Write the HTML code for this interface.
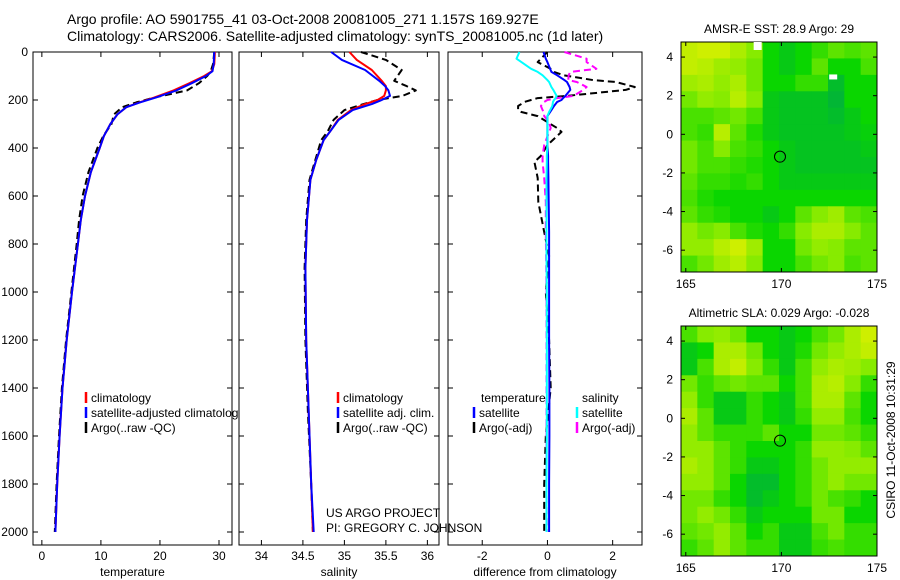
<!DOCTYPE html>
<html><head><meta charset="utf-8">
<style>
html,body{margin:0;padding:0;background:#fff;}
svg{display:block;font-family:"Liberation Sans",sans-serif;}
</style></head>
<body>
<svg id="fig" width="900" height="580" viewBox="0 0 900 580" xmlns="http://www.w3.org/2000/svg">
<text x="67" y="24" font-size="14">Argo profile: AO 5901755_41 03-Oct-2008 20081005_271 1.157S 169.927E</text>
<text x="67" y="41" font-size="14">Climatology: CARS2006. Satellite-adjusted climatology: synTS_20081005.nc (1d later)</text>
<g id="p1"></g>
<g id="p2"></g>
<g id="p3"></g>
<g id="m1"></g>
<g id="m2"></g>
<text x="326" y="517" font-size="12">US ARGO PROJECT</text>
<text x="326" y="532" font-size="12">PI: GREGORY C. JOHNSON</text>
<text transform="translate(895,440) rotate(-90)" text-anchor="middle" font-size="12">CSIRO 11-Oct-2008 10:31:29</text>
</svg>
<script>
// ---- data ----
const tDepth = [0,50,80,100,130,160,190,210,230,260,300,350,400,500,600,700,800,1000,1200,1400,1600,1800,2000];
const tClim  = [29.3,29.2,28.8,27.5,25,22.3,19,16.5,14.3,12.8,11.6,10.5,9.8,8.3,7.3,6.6,6.1,5.1,4.2,3.5,3.0,2.6,2.3];
const tSat   = [29.2,29.1,28.9,27.8,25.4,22.8,19.3,16.6,14.3,12.8,11.6,10.5,9.8,8.3,7.3,6.6,6.1,5.1,4.2,3.5,3.0,2.6,2.3];
const tArgo  = [29.2,29.0,28.6,28.0,26.6,24.6,19.0,16.0,13.6,12.2,11.8,10.4,9.4,7.9,6.9,6.3,5.9,5.0,4.1,3.4,2.9,2.5,2.2];
const sDepth = [0,33,75,120,142,160,183,200,217,242,283,330,367,450,533,700,900,1200,1500,1800,2000];
const sClim  = [35.06,35.15,35.33,35.45,35.5,35.5,35.48,35.4,35.25,35.08,34.92,34.83,34.75,34.66,34.59,34.55,34.53,34.54,34.57,34.6,34.62];
const sSat   = [34.84,34.97,35.25,35.42,35.49,35.53,35.55,35.45,35.33,35.1,34.93,34.83,34.75,34.66,34.59,34.55,34.53,34.54,34.57,34.6,34.63];
const sArgo  = [35.2,35.5,35.69,35.6,35.75,35.86,35.7,35.4,35.23,35.0,34.87,34.8,34.72,34.65,34.58,34.54,34.52,34.53,34.56,34.6,34.62];
const dDepth = [0,28,42,70,83,97,117,125,146,158,183,192,200,208,225,242,250,267,292,317,333,388,433,458,525,625,750,850,1000,1200,1400,1600,1800,2000];
const dTsat  = [-0.12,-0.05,0,0.08,0.12,0.3,0.52,0.6,0.68,0.7,0.55,0.48,0.43,0.3,0.2,0.12,0.08,0,0,0,0,0,0.02,0.02,0.03,0.04,0.05,0.05,0.05,0.05,0.06,0.06,0.05,0.05];
const dSsat  = [-0.86,-0.95,-0.8,-0.5,-0.3,-0.15,0.0,0.05,0.12,0.18,0.28,0.25,0.2,0.17,0.15,0.08,0.05,0,0,0,0,0,-0.02,-0.02,-0.03,-0.03,-0.03,-0.03,-0.02,-0.02,-0.02,-0.02,-0.03,-0.03];
const dTargo = [0,-0.2,-0.3,0.1,0.2,0.5,1.4,2.1,2.68,2.4,0.6,-0.3,-0.5,-0.7,-0.9,-0.9,-0.8,-0.3,0,0.3,0.43,0,-0.2,-0.4,-0.3,-0.28,-0.1,0.05,-0.05,0.05,0.1,-0.05,-0.1,-0.1];
const dSargo = [0.52,1.2,1.2,1.5,0.7,0.65,0.64,0.9,1.2,1.1,0.8,0.3,0,-0.1,-0.2,-0.15,-0.1,-0.1,0.05,0.1,0.05,-0.1,-0.15,-0.15,-0.1,-0.05,-0.05,-0.04,-0.03,-0.03,-0.03,-0.03,-0.03,-0.02];
const depthTicks = [0,200,400,600,800,1000,1200,1400,1600,1800,2000];
const tTicks = [0,10,20,30];
const sTicks = [34,34.5,35,35.5,36];
const sTickLabels = ["34","34.5","35","35.5","36"];
const dTicks = [-2,0,2];
const lonTicks = [165,170,175];
const latTicks = [4,2,0,-2,-4,-6];
const sstGrid = [
[0.85,0.9,0.9,0.75,0.6,0.3,0.2,0.3,0.4,0.5,0.45,0.5],
[0.85,0.8,0.7,0.65,0.55,0.3,0.2,0.3,0.5,0.3,0.3,0.45],
[0.7,0.75,0.65,0.75,0.55,0.3,0.3,0.4,0.4,0.1,0.3,0.3],
[0.55,0.65,0.6,0.8,0.6,0.2,0.15,0.15,0.15,0.05,0.3,0.3],
[0.45,0.45,0.5,0.55,0.45,0.2,0.15,0.15,0.15,0.1,0.2,0.3],
[0.45,0.4,0.8,0.5,0.35,0.2,0.15,0.15,0.15,0.15,0.2,0.25],
[0.55,0.45,0.6,0.45,0.4,0.3,0.2,0.15,0.15,0.15,0.15,0.2],
[0.55,0.45,0.45,0.4,0.35,0.3,0.2,0.15,0.15,0.15,0.15,0.15],
[0.5,0.4,0.4,0.35,0.4,0.3,0.2,0.2,0.2,0.2,0.2,0.2],
[0.45,0.35,0.3,0.3,0.3,0.3,0.3,0.3,0.3,0.3,0.3,0.3],
[0.5,0.4,0.35,0.3,0.3,0.2,0.3,0.5,0.6,0.7,0.5,0.45],
[0.65,0.55,0.6,0.45,0.35,0.3,0.4,0.6,0.75,0.75,0.6,0.5],
[0.65,0.65,0.8,0.9,0.7,0.3,0.3,0.55,0.65,0.6,0.5,0.5],
[0.45,0.55,0.7,0.8,0.6,0.3,0.3,0.45,0.55,0.6,0.45,0.5]];
const slaGrid = [
[0.45,0.6,0.65,0.55,0.3,0.3,0.2,0.3,0.45,0.55,0.75,0.9],
[0.2,0.3,0.75,0.75,0.55,0.3,0.2,0.35,0.55,0.65,0.75,0.85],
[0.2,0.45,0.75,0.85,0.6,0.4,0.2,0.45,0.65,0.75,0.7,0.6],
[0.55,0.4,0.5,0.55,0.5,0.5,0.3,0.45,0.75,0.8,0.6,0.4],
[0.65,0.4,0.2,0.2,0.4,0.3,0.2,0.45,0.75,0.75,0.5,0.3],
[0.75,0.5,0.2,0.2,0.4,0.3,0.2,0.4,0.65,0.65,0.45,0.3],
[0.65,0.5,0.4,0.4,0.4,0.5,0.3,0.3,0.55,0.55,0.5,0.4],
[0.65,0.65,0.5,0.4,0.3,0.3,0.3,0.4,0.65,0.65,0.6,0.5],
[0.75,0.65,0.5,0.4,0.2,0.2,0.3,0.4,0.55,0.65,0.65,0.65],
[0.65,0.65,0.5,0.3,0.1,0.1,0.3,0.4,0.55,0.65,0.55,0.55],
[0.55,0.55,0.4,0.3,0.1,0.2,0.3,0.4,0.55,0.45,0.4,0.3],
[0.55,0.65,0.55,0.4,0.2,0.3,0.3,0.3,0.55,0.55,0.3,0.3],
[0.5,0.55,0.65,0.5,0.3,0.4,0.2,0.2,0.45,0.55,0.4,0.4],
[0.4,0.5,0.65,0.5,0.4,0.4,0.2,0.2,0.4,0.45,0.4,0.4]];
const argoLon = 169.927, argoLat = -1.157;

// ---- helpers ----
const NS = "http://www.w3.org/2000/svg";
function mk(parent, tag, attrs, txt){
  const e = document.createElementNS(NS, tag);
  for (const k in attrs) e.setAttribute(k, attrs[k]);
  if (txt !== undefined) e.textContent = txt;
  parent.appendChild(e);
  return e;
}
const TOP = 52, BOT = 545;
const yD = d => TOP + d * 0.24;

function profilePanel(g, x0, x1, vmin, vmax, ticks, labels, xlabel, showY){
  const xs = v => x0 + (v - vmin) / (vmax - vmin) * (x1 - x0);
  const r = mk(g, 'rect', {x:x0, y:TOP, width:x1-x0, height:BOT-TOP, fill:'#fff', stroke:'#000', 'stroke-width':1});
  
  
  ticks.forEach((t, i) => {
    const x = xs(t);
    mk(g, 'line', {x1:x, x2:x, y1:BOT, y2:BOT-5, stroke:'#000'});
    mk(g, 'line', {x1:x, x2:x, y1:TOP, y2:TOP+5, stroke:'#000'});
    const tl = mk(g, 'text', {x:x, y:BOT+15, 'font-size':12, 'text-anchor':'middle'}, labels[i]);
    
    
  });
  depthTicks.forEach(d => {
    const y = yD(d);
    mk(g, 'line', {x1:x0, x2:x0+5, y1:y, y2:y, stroke:'#000'});
    mk(g, 'line', {x1:x1, x2:x1-5, y1:y, y2:y, stroke:'#000'});
    if (showY){
      const yl = mk(g, 'text', {x:x0-5, y:y+4, 'font-size':12, 'text-anchor':'end'}, String(d));
      
      
    }
  });
  const xl = mk(g, 'text', {x:(x0+x1)/2, y:576, 'font-size':12, 'text-anchor':'middle'}, xlabel);
  
  
  return xs;
}
function series(g, xs, vals, depths, color, dashed, name){
  const pts = vals.map((v, i) => xs(v).toFixed(1) + ',' + yD(depths[i]).toFixed(1)).join(' ');
  const a = {points:pts, fill:'none', stroke:color, 'stroke-width':2, 'stroke-linejoin':'round'};
  if (dashed) a['stroke-dasharray'] = '7 4';
  const p = mk(g, 'polyline', a);
  
  
}
function legendEntry(g, x, y, color, label, name){
  mk(g, 'line', {x1:x, x2:x, y1:y-10, y2:y+1, stroke:color, 'stroke-width':2.5});
  const t = mk(g, 'text', {x:x+5, y:y, 'font-size':12}, label);
  
  
}

// ---- panel 1: temperature ----
const g1 = document.getElementById('p1');
const x1s = profilePanel(g1, 33, 232, -1.5, 32.2, tTicks, tTicks.map(String), 'temperature', true);
series(g1, x1s, tArgo, tDepth, '#000', true, 'argo-temperature-line');
series(g1, x1s, tClim, tDepth, '#f00', false, 'climatology-temperature-line');
series(g1, x1s, tSat, tDepth, '#00f', false, 'satellite-temperature-line');
legendEntry(g1, 86, 402, '#f00', 'climatology', 'legend-climatology');
legendEntry(g1, 86, 417, '#00f', 'satellite-adjusted climatology', 'legend-satellite-adjusted');
legendEntry(g1, 86, 432, '#000', 'Argo(..raw -QC)', 'legend-argo');

// ---- panel 2: salinity ----
const g2 = document.getElementById('p2');
const x2s = profilePanel(g2, 239, 439, 33.73, 36.14, sTicks, sTickLabels, 'salinity', false);
series(g2, x2s, sArgo, sDepth, '#000', true, 'argo-salinity-line');
series(g2, x2s, sClim, sDepth, '#f00', false, 'climatology-salinity-line');
series(g2, x2s, sSat, sDepth, '#00f', false, 'satellite-salinity-line');
legendEntry(g2, 338, 402, '#f00', 'climatology', 'legend-climatology');
legendEntry(g2, 338, 417, '#00f', 'satellite adj. clim.', 'legend-satellite-adj');
legendEntry(g2, 338, 432, '#000', 'Argo(..raw -QC)', 'legend-argo');

// ---- panel 3: difference ----
const g3 = document.getElementById('p3');
const x3s = profilePanel(g3, 448, 642, -3.05, 2.9, dTicks, dTicks.map(String), 'difference from climatology', false);
series(g3, x3s, dTargo, dDepth, '#000', true, 'argo-temperature-diff-line');
series(g3, x3s, dSargo, dDepth, '#f0f', true, 'argo-salinity-diff-line');
series(g3, x3s, dTsat, dDepth, '#00f', false, 'satellite-temperature-diff-line');
series(g3, x3s, dSsat, dDepth, '#0ff', false, 'satellite-salinity-diff-line');
const lt = mk(g3, 'text', {x:481, y:402, 'font-size':12}, 'temperature');


const ls = mk(g3, 'text', {x:582, y:402, 'font-size':12}, 'salinity');


legendEntry(g3, 474, 417, '#00f', 'satellite', 'legend-temperature-satellite');
legendEntry(g3, 474, 432, '#000', 'Argo(-adj)', 'legend-temperature-argo');
legendEntry(g3, 577, 417, '#0ff', 'satellite', 'legend-salinity-satellite');
legendEntry(g3, 577, 432, '#f0f', 'Argo(-adj)', 'legend-salinity-argo');

// ---- maps ----
function colorOf(v){
  const stops = [[0,[0,176,64]],[0.3,[10,214,0]],[0.6,[135,235,0]],[1,[230,240,0]]];
  for (let i=1;i<stops.length;i++){
    if (v <= stops[i][0]){
      const [a,ca] = stops[i-1], [b,cb] = stops[i];
      const f = (v-a)/(b-a);
      return 'rgb(' + ca.map((c,k)=>Math.round(c+(cb[k]-c)*f)).join(',') + ')';
    }
  }
  return 'rgb(230,240,0)';
}
function mapPanel(g, top, grid, title, name){
  const L = 681, R = 877, H = 230;
  const lonMin = 164.75, lonMax = 175.0, latMax = 4.78, latMin = -7.13;
  const xm = lon => L + (lon - lonMin) / (lonMax - lonMin) * (R - L);
  const ym = lat => top + (latMax - lat) / (latMax - latMin) * H;
  const nr = grid.length, nc = grid[0].length;
  const cw = (R - L) / nc, ch = H / nr;
  grid.forEach((row, i) => row.forEach((v, j) => {
    const c = mk(g, 'rect', {x:(L + j*cw).toFixed(2), y:(top + i*ch).toFixed(2), width:(cw+0.5).toFixed(2), height:(ch+0.5).toFixed(2), fill:colorOf(v)});
    
    
  }));
  const fr = mk(g, 'rect', {x:L, y:top, width:R-L, height:H, fill:'none', stroke:'#000'});
  
  
  lonTicks.forEach(t => {
    const x = xm(t);
    mk(g, 'line', {x1:x, x2:x, y1:top+H, y2:top+H-4, stroke:'#000'});
    mk(g, 'line', {x1:x, x2:x, y1:top, y2:top+4, stroke:'#000'});
    const tl = mk(g, 'text', {x:x, y:top+H+16, 'font-size':12, 'text-anchor':'middle'}, String(t));
    
    
  });
  latTicks.forEach(t => {
    const y = ym(t);
    mk(g, 'line', {x1:L, x2:L+4, y1:y, y2:y, stroke:'#000'});
    mk(g, 'line', {x1:R, x2:R-4, y1:y, y2:y, stroke:'#000'});
    const tl = mk(g, 'text', {x:L-8, y:y+4, 'font-size':12, 'text-anchor':'end'}, String(t));
    
    
  });
  const c = mk(g, 'circle', {cx:xm(argoLon), cy:ym(argoLat), r:5.5, fill:'none', stroke:'#000', 'stroke-width':1});
  
  
  const tt = mk(g, 'text', {x:(L+R)/2, y:top-9, 'font-size':12, 'text-anchor':'middle'}, title);
  
  
  return {xm, ym};
}
const gm1 = document.getElementById('m1');
const a1 = mapPanel(gm1, 42, sstGrid, 'AMSR-E SST: 28.9 Argo: 29', 'sst-map');
mk(gm1, 'rect', {x:a1.xm(168.55), y:a1.ym(4.78), width:8, height:8, fill:'#fff'});
mk(gm1, 'rect', {x:a1.xm(172.5), y:a1.ym(3.1), width:8, height:5, fill:'#fff'});
const gm2 = document.getElementById('m2');
mapPanel(gm2, 326, slaGrid, 'Altimetric SLA: 0.029 Argo: -0.028', 'sla-map');
</script>
</body></html>
